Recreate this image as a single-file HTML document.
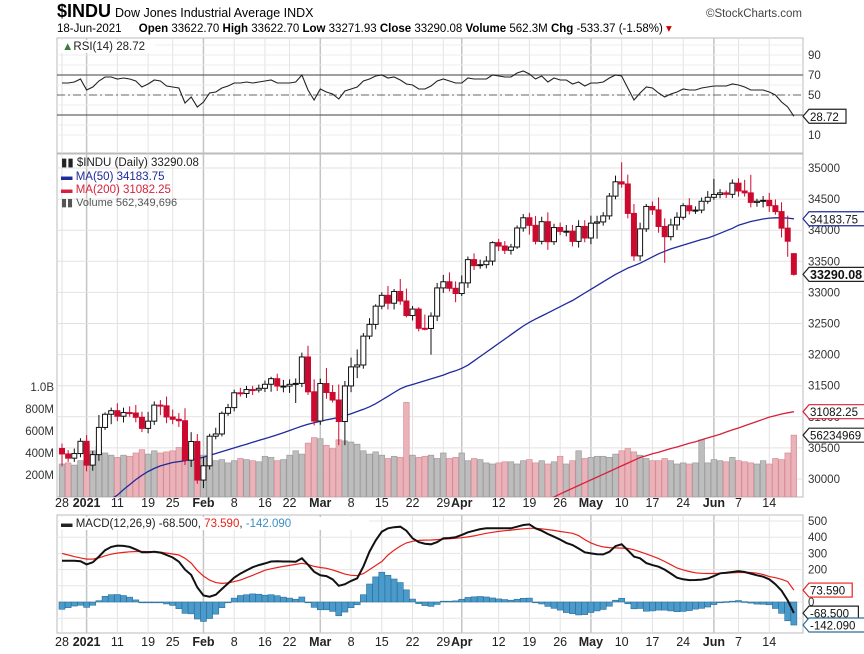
<!DOCTYPE html>
<html><head><meta charset="utf-8"><style>
html,body{margin:0;padding:0;background:#fff;}
svg{display:block;font-family:"Liberation Sans",sans-serif;}
</style></head><body>
<svg id="chart" width="864" height="654" viewBox="0 0 864 654" xmlns="http://www.w3.org/2000/svg">
<defs>
<clipPath id="mainClip"><rect x="57" y="154" width="746" height="343"/></clipPath>
<clipPath id="rsiClip"><rect x="57" y="38" width="746" height="115"/></clipPath>
<clipPath id="macdClip"><rect x="57" y="515" width="746" height="118"/></clipPath>
</defs>
<g>
<text x="57" y="17" font-size="18" font-weight="bold">$INDU</text>
<text x="115" y="17" font-size="12.5">Dow Jones Industrial Average INDX</text>
<text x="802" y="17" font-size="11.5" fill="#444" text-anchor="end">©StockCharts.com</text>
<text x="57" y="32" font-size="11.5">18-Jun-2021 <tspan dx="14" font-weight="bold">Open</tspan> 33622.70 <tspan font-weight="bold">High</tspan> 33622.70 <tspan font-weight="bold">Low</tspan> 33271.93 <tspan font-weight="bold">Close</tspan> 33290.08 <tspan font-weight="bold">Volume</tspan> 562.3M <tspan font-weight="bold">Chg</tspan> -533.37 (-1.58%) <tspan fill="#c00">▾</tspan></text>
</g>
<g id="grid"></g>
<g id="rsi"></g>
<g id="main"></g>
<g id="macd"></g>
<g id="axes"></g>
</svg>
<script>
const closes=[30403,30335,30409,30606,
30223,30392,30829,31041,31098,31009,31068,31061,30992,30814,30930,31188,31176,30997,30960,30937,30303,30603,29983,
30212,30688,30724,31056,31148,31386,31375,31438,31431,31458,31523,31613,31494,31494,31522,31537,31962,31402,30932,
31535,31391,31270,30924,31496,31802,31833,32297,32486,32779,32953,32826,33015,32862,32628,32732,32423,32420,32619,33072,33171,33066,32982,
33153,33527,33430,33446,33503,33800,33745,33677,33730,34036,34200,34078,33821,34137,33815,34043,33981,33984,33820,34060,33875,
34113,34133,34230,34548,34778,34743,34270,33587,34021,34382,34327,34060,33896,34084,34208,34394,34312,34323,34465,34529,
34575,34600,34577,34756,34630,34600,34447,34466,34480,34394,34299,34033,33823,33290];
const firstOpen=30490;
const lastOpen=33622.7;
const hiExt=[80,60,80,50,
100,60,200,30,50,120,80,100,130,90,150,60,80,150,120,100,200,150,120,
150,40,100,30,60,50,80,60,60,60,60,30,80,100,80,80,70,180,200,
80,250,120,250,80,150,250,50,100,30,50,150,40,200,200,50,30,220,60,80,110,150,110,
120,50,100,80,80,20,60,80,50,40,60,80,150,80,150,60,80,100,100,100,100,
120,100,60,50,100,313,150,150,100,40,80,200,130,100,80,40,120,60,60,100,
250,60,40,60,80,180,290,40,70,120,100,150,200,10];
const loExt=[200,60,60,60,
100,90,100,40,160,80,100,60,80,60,80,60,150,100,80,100,80,110,60,
130,60,50,40,40,60,50,70,80,40,60,120,80,100,110,300,60,50,70,
60,100,40,380,380,100,180,60,50,80,50,100,100,60,30,80,50,30,420,80,80,50,140,
40,80,70,50,60,70,80,60,70,30,60,150,50,50,130,50,60,80,80,100,70,
100,250,60,60,50,60,80,80,80,50,80,100,420,60,80,40,60,50,50,40,
40,60,60,60,90,60,80,70,100,100,50,150,250,20];
const volumes=[300,310,290,330,
480,420,460,400,380,360,380,370,400,430,390,420,400,410,420,450,480,430,500,
380,350,330,340,310,330,350,340,330,320,370,360,330,340,380,420,390,490,540,
530,470,440,520,510,500,480,420,390,410,380,350,370,360,860,380,360,370,380,350,400,350,360,
400,330,350,340,310,300,310,320,320,300,330,340,310,330,300,320,370,300,330,420,350,
360,370,370,360,390,420,440,410,380,350,330,330,350,330,300,310,300,310,520,310,
340,330,320,360,330,320,310,300,330,300,350,340,400,562];
const ma50=[29150,29210,29270,29330,29400,29470,29540,29610,29680,
29740,29830,29910,29990,30060,30120,30170,30210,30240,30265,30280,30295,30310,30330,30350,30380,30410,30440,30470,30500,
30530,30560,30590,30620,30650,30680,30710,30745,30780,30815,30850,30880,30905,30930,
30950,30970,30990,31020,31050,31085,31120,31160,31210,31270,31330,31390,31450,
31490,31520,31550,31580,31610,31640,31670,31710,31740,31780,31830,
31900,31970,32040,32110,32180,32250,32320,32390,32460,
32520,32570,32620,32670,32720,32770,32820,32870,
32930,32990,33050,33110,33170,33230,
33290,33340,33390,33430,33470,
33520,33570,33620,33660,33700,
33730,33760,33790,33820,33850,33875,
33910,33950,33990,34030,34080,
34110,34140,34160,34180,34195,
34200,34200,34195,34183.75];
const ma200=[null,null,null,null,null,null,null,null,null,null,null,null,null,null,null,null,null,null,null,null,
null,null,null,null,null,null,null,null,null,null,null,null,null,null,null,null,null,null,null,null,
null,null,null,null,null,null,null,null,null,null,null,null,null,null,null,null,null,null,null,null,
null,null,null,null,null,null,null,null,null,null,null,null,null,null,null,null,null,null,
29650,29680,29711,29760,29805,29850,29895,29940,29985,30030,30075,30120,30165,30210,30255,30300,30345,
30375,30405,30430,30460,30490,30515,30545,30575,30600,30630,30660,30690,30720,30755,30790,30820,30855,30890,30925,30960,30995,31020,31045,31065,31082.25];
const rsi=[62,62,63,66,55,58,64,68,68,66,67,66,64,58,61,65,64,59,58,57,42,48,38,43,52,53,57,59,62,62,63,62,63,64,65,62,62,62,63,70,55,45,56,53,51,46,54,56,58,64,66,69,70,67,68,65,61,60,56,56,59,64,66,64,62,62,67,66,66,66,70,69,68,68,72,74,71,66,69,63,67,65,65,61,63,59,62,62,63,67,70,69,57,45,52,58,57,52,48,51,53,56,55,55,57,58,59,59,59,61,60,58,55,55,55,53,50,43,38,28.72];
const macdLine=[255,255,255,252,232,245,280,320,340,348,346,340,325,307,307,310,305,290,275,249,200,167,90,40,33,45,80,115,150,175,195,215,228,238,250,252,250,250,249,270,230,187,165,160,140,100,110,130,146,220,311,380,434,455,462,465,440,393,370,360,356,370,393,395,400,414,430,440,450,455,455,455,455,455,465,475,479,455,440,420,403,385,365,352,330,307,300,295,294,310,345,356,320,280,270,240,228,218,200,175,150,140,135,136,138,145,160,177,180,185,191,185,175,165,156,140,110,70,10,-68.5];
const signalLine=[300,290,280,272,265,265,272,285,295,302,306,310,312,312,311,311,308,302,296,290,270,240,195,160,135,120,115,118,126,135,150,165,180,196,205,213,220,226,232,239,232,220,213,208,198,185,172,165,163,175,200,225,250,290,320,345,365,375,380,382,383,385,388,390,393,397,402,408,416,424,430,436,440,444,448,452,455,455,452,447,442,435,430,424,410,385,365,350,340,336,334,333,331,322,310,297,283,268,250,230,210,198,188,180,177,176,176,177,178,180,182,183,182,178,170,157,150,140,126,73.59];
const tickIdx=[0,4,9,14,18,23,28,33,37,42,47,52,57,62,65,71,76,81,86,91,96,101,106,110,115];
const tickLabels=["28","2021","11","19","25","Feb","8","16","22","Mar","8","15","22","29","Apr","12","19","26","May","10","17","24","Jun","7","14"];
const tickMajor=[false,true,false,false,false,true,false,false,false,true,false,false,false,false,true,false,false,false,true,false,false,false,true,false,false];
const priceTicks=[30000,30500,31000,31500,32000,32500,33000,33500,34000,34500,35000];
const volTicks=[200,400,600,800,1000];
const volTickLabels=["200M","400M","600M","800M","1.0B"];
const rsiTicks=[10,50,70,90];
const macdTicks=[0,100,200,300,400,500];

const NS="http://www.w3.org/2000/svg";
const X0=62,DX=6.15,L=57,R=803;
const xi=i=>X0+i*DX;
const py=p=>479-(p-30000)*0.0622;
const vy=v=>497-v*0.11;
const ry=r=>145-r;
const my=m=>602-m*0.162;
function mk(parent,tag,attrs,txt){const e=document.createElementNS(NS,tag);for(const k in attrs)e.setAttribute(k,attrs[k]);if(txt!==undefined)e.textContent=txt;parent.appendChild(e);return e;}
const grid=document.getElementById('grid'),rsiG=document.getElementById('rsi'),mainG=document.getElementById('main'),macdG=document.getElementById('macd'),axes=document.getElementById('axes');

[[38,153],[154,497],[515,633]].forEach(p=>{
  const r=mk(grid,'rect',{x:L,y:p[0],width:R-L,height:p[1]-p[0],fill:'#fff',stroke:'#bbb'});
  
  
});
tickIdx.forEach((t,k)=>{
  const x=xi(t);
  [[38,153],[154,497],[515,633]].forEach(p=>{
    const l=mk(grid,'line',{x1:x,x2:x,y1:p[0],y2:p[1],stroke:tickMajor[k]?'#c4c4c4':'#e2e2e2','stroke-width':tickMajor[k]?1.5:1});
    
    
  });
  [507,646].forEach(yy=>{
    const tx=mk(axes,'text',{x:x,y:yy,'font-size':12.5,'text-anchor':'middle','font-weight':tickMajor[k]?'bold':'normal',fill:'#222'},tickLabels[k]);
    
    
  });
});
priceTicks.forEach(p=>{
  const y=py(p);
  const l=mk(grid,'line',{x1:L,x2:R,y1:y,y2:y,stroke:'#e2e2e2'});
  
  
  const t=mk(axes,'text',{x:808,y:y+4,'font-size':11.5,fill:'#333'},String(p));
  
  
});
volTicks.forEach((v,k)=>{
  const t=mk(axes,'text',{x:54,y:vy(v)+4,'font-size':11.5,fill:'#333','text-anchor':'end'},volTickLabels[k]);
  
  
});
for(let r=10;r<=100;r+=10){const l=mk(grid,'line',{x1:L,x2:R,y1:ry(r),y2:ry(r),stroke:'#ececec'});
  
  }
rsiTicks.forEach(r=>{const t=mk(axes,'text',{x:808,y:ry(r)+4,'font-size':11.5,fill:'#333'},String(r));
  
  });
[70,30].forEach(r=>{const l=mk(rsiG,'line',{x1:L,x2:R,y1:ry(r),y2:ry(r),stroke:'#666','stroke-width':1.3});
  
  });
{const l=mk(rsiG,'line',{x1:L,x2:R,y1:ry(50),y2:ry(50),stroke:'#666','stroke-dasharray':'8,3,2,3'});
 
 }
macdTicks.forEach(m=>{const l=mk(grid,'line',{x1:L,x2:R,y1:my(m),y2:my(m),stroke:'#e6e6e6'});
  
  
  if(m!==100){const t=mk(axes,'text',{x:808,y:my(m)+4,'font-size':11.5,fill:'#333'},String(m));
  
  }});
{const l=mk(grid,'line',{x1:L,x2:R,y1:my(-100),y2:my(-100),stroke:'#e6e6e6'});
 
 }

function pathFrom(arr,fy){let d='',pen=false;arr.forEach((v,i)=>{if(v===null||v===undefined){pen=false;return;}d+=(pen?'L':'M')+xi(i).toFixed(1)+','+fy(v).toFixed(1);pen=true;});return d;}

{const p=mk(rsiG,'path',{d:pathFrom(rsi,ry),fill:'none',stroke:'#222','stroke-width':1.1,'clip-path':'url(#rsiClip)'});
 
 }

const mainClip=mk(mainG,'g',{'clip-path':'url(#mainClip)'});


volumes.forEach((v,i)=>{
  const down=i>0&&closes[i]<closes[i-1];
  const b=mk(mainClip,'rect',{x:xi(i)-2.8,y:vy(v),width:5.6,height:497-vy(v),fill:down?'#eab3ba':'#bdbdbd',stroke:down?'#d98c96':'#9c9c9c','stroke-width':0.7});
  
  
});
{const p=mk(mainClip,'path',{d:pathFrom(ma200,py),fill:'none',stroke:'#d8203c','stroke-width':1.3});
 
 }
{const p=mk(mainClip,'path',{d:pathFrom(ma50,py),fill:'none',stroke:'#1f2a9c','stroke-width':1.3});
 
 }
closes.forEach((c,i)=>{
  const o=i===0?firstOpen:(i===closes.length-1?lastOpen:closes[i-1]);
  const up=c>=o;
  const col=up?'#111':'#cc0a2f';
  const top=Math.max(o,c),bot=Math.min(o,c);
  const h=top+hiExt[i],l=bot-loExt[i];
  const w=mk(mainClip,'line',{x1:xi(i),x2:xi(i),y1:py(h),y2:py(l),stroke:col,'stroke-width':1});
  
  
  const bh=Math.max(1,py(bot)-py(top));
  const b=mk(mainClip,'rect',{x:xi(i)-2.5,y:py(top),width:5,height:bh,fill:up?'#fff':col,stroke:col,'stroke-width':1});
  
  
});

const mc=mk(macdG,'g',{'clip-path':'url(#macdClip)'});


macdLine.forEach((m,i)=>{
  const h=m-signalLine[i];
  const y0=my(0),y1=my(h);
  const b=mk(mc,'rect',{x:xi(i)-3,y:Math.min(y0,y1),width:6,height:Math.max(0.8,Math.abs(y1-y0)),fill:'#4a9bcb',stroke:'#2c6f99','stroke-width':0.6});
  
  
});
{const p=mk(mc,'path',{d:pathFrom(signalLine,my),fill:'none',stroke:'#e8201c','stroke-width':1.2});
 
 }
{const p=mk(mc,'path',{d:pathFrom(macdLine,my),fill:'none',stroke:'#111','stroke-width':2});
 
 }

function tag(y,txt,stroke,bold,name){
  const w=txt.length*(bold?7:6.2)+6;
  const g=mk(axes,'g',{});
  
  
  mk(g,'polygon',{points:`803,${y} 809,${y-7} ${809+w},${y-7} ${809+w},${y+7} 809,${y+7}`,fill:'#fff',stroke:stroke,'stroke-width':1.2});
  mk(g,'text',{x:810,y:y+4.5,'font-size':bold?12.5:11.5,'font-weight':bold?'bold':'normal',fill:'#111'},txt);
}
tag(ry(rsi[119]),"28.72",'#222',false,'rsi-value-tag');
tag(py(ma50[119]),"34183.75",'#1f2a9c',false,'ma50-value-tag');
tag(py(closes[119]),"33290.08",'#222',true,'close-value-tag');
tag(py(ma200[119]),"31082.25",'#d8203c',false,'ma200-value-tag');
tag(vy(volumes[119]),"56234969",'#222',false,'volume-value-tag');
tag(my(signalLine[119]),"73.590",'#e8201c',false,'signal-value-tag');
tag(my(macdLine[119]),"-68.500",'#222',false,'macd-value-tag');
tag(my(macdLine[119]-signalLine[119]),"-142.090",'#2c6f99',false,'histogram-value-tag');
</script>
<script>
(function(){
const svg=document.getElementById('chart');
const NS="http://www.w3.org/2000/svg";
const g=document.createElementNS(NS,'g');


g.innerHTML='<rect x="60" y="40" width="95" height="13" fill="#fff"/>'+
'<text x="62" y="50" font-size="11.5" fill="#222"><tspan fill="#3a7d3a">▲</tspan>RSI(14) 28.72</text>'+
'<text x="61" y="166" font-size="11.5" fill="#222">▮▮ $INDU (Daily) 33290.08</text>'+
'<text x="61" y="180" font-size="11.5" fill="#1f2a9c">▬ MA(50) 34183.75</text>'+
'<text x="61" y="193" font-size="11.5" fill="#d8203c">▬ MA(200) 31082.25</text>'+
'<text x="61" y="206" font-size="11" fill="#555">▮▮ Volume 562,349,696</text>'+
'<rect x="59" y="517" width="310" height="13" fill="#fff"/>'+
'<text x="61" y="527" font-size="11.5" fill="#222">▬ MACD(12,26,9) -68.500, <tspan fill="#e8201c">73.590</tspan>, <tspan fill="#3a8fc4">-142.090</tspan></text>';
svg.appendChild(g);
})();
</script>
</body></html>
